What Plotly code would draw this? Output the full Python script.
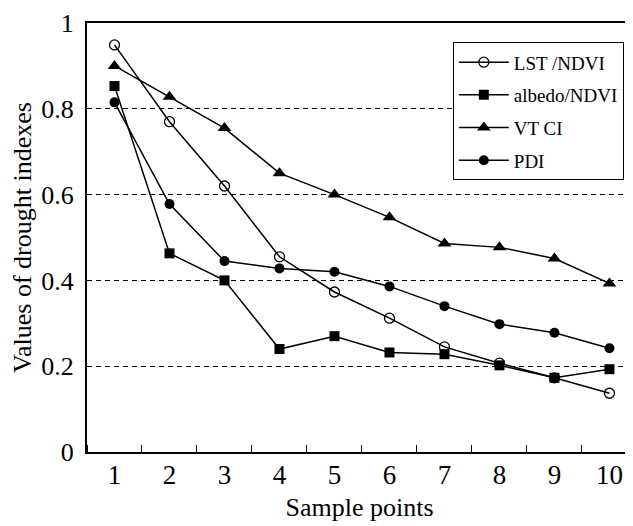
import plotly.graph_objects as go

sample_points = [1, 2, 3, 4, 5, 6, 7, 8, 9, 10]
lst_ndvi = [0.949, 0.770, 0.620, 0.455, 0.373, 0.312, 0.245, 0.207, 0.173, 0.137]
albedo_ndvi = [0.853, 0.463, 0.400, 0.240, 0.270, 0.232, 0.228, 0.202, 0.173, 0.193]
vtci = [0.900, 0.828, 0.755, 0.650, 0.600, 0.547, 0.486, 0.477, 0.451, 0.393]
pdi = [0.815, 0.578, 0.445, 0.428, 0.420, 0.386, 0.340, 0.298, 0.278, 0.242]

series_names = ["LST /NDVI", "albedo/NDVI", "VT CI", "PDI"]
x_tick_labels = ["1", "2", "3", "4", "5", "6", "7", "8", "9", "10"]
y_tick_vals = [0, 0.2, 0.4, 0.6, 0.8, 1]
y_tick_labels = ["0", "0.2", "0.4", "0.6", "0.8", "1"]

FONT = "Liberation Serif, Times New Roman, serif"

styles = [
    dict(symbol="circle-open", size=10, color="black", line=dict(width=1.3, color="black")),
    dict(symbol="square", size=10, color="black"),
    dict(symbol="triangle-up", size=12, color="black"),
    dict(symbol="circle", size=10, color="black"),
]

fig = go.Figure()
for i, (name, vals, mk) in enumerate(zip(series_names, [lst_ndvi, albedo_ndvi, vtci, pdi], styles)):
    fig.add_trace(go.Scatter(
        x=sample_points, y=vals, name=name, mode="lines+markers",
        line=dict(color="black", width=1.5),
        marker=mk, legendgroup=f"g{i}",
    ))

# page body has an 8px margin, so the figure is sized to the visible area
fig.update_layout(
    width=625, height=518,
    margin=dict(l=79, r=1, t=15, b=74),
    paper_bgcolor="white", plot_bgcolor="white",
    font=dict(family=FONT, color="black", size=24),
    showlegend=True,
    legend=dict(
        x=0.985, y=0.955, xanchor="right", yanchor="top",
        bgcolor="white", bordercolor="black", borderwidth=1,
        font=dict(family=FONT, size=19, color="black"),
        tracegroupgap=5, itemwidth=50,
    ),
)

fig.update_xaxes(
    range=[0.5, 10.41], automargin=False,
    tickmode="array", tickvals=sample_points, ticktext=x_tick_labels,
    ticks="", showgrid=False, zeroline=False,
    showline=True, linecolor="black", linewidth=2, mirror=True,
    tickfont=dict(family=FONT, size=27),
    ticklabelstandoff=-2,
    minor=dict(tickmode="linear", tick0=0.5, dtick=1, ticks="inside",
               ticklen=7, tickwidth=1, tickcolor="black", showgrid=False),
    title=dict(text="Sample points", font=dict(family=FONT, size=26), standoff=8),
)
fig.update_yaxes(
    range=[0, 1], automargin=False,
    tickmode="array", tickvals=y_tick_vals, ticktext=y_tick_labels,
    ticks="", showgrid=True, gridcolor="black", gridwidth=1, griddash="5px,4px",
    zeroline=False,
    showline=True, linecolor="black", linewidth=2, mirror=True,
    tickfont=dict(family=FONT, size=26),
    ticklabelstandoff=6, ticklabeloverflow="allow",
    title=dict(text="Values of drought indexes", font=dict(family=FONT, size=26), standoff=8),
)

fig.write_html("out.html")
